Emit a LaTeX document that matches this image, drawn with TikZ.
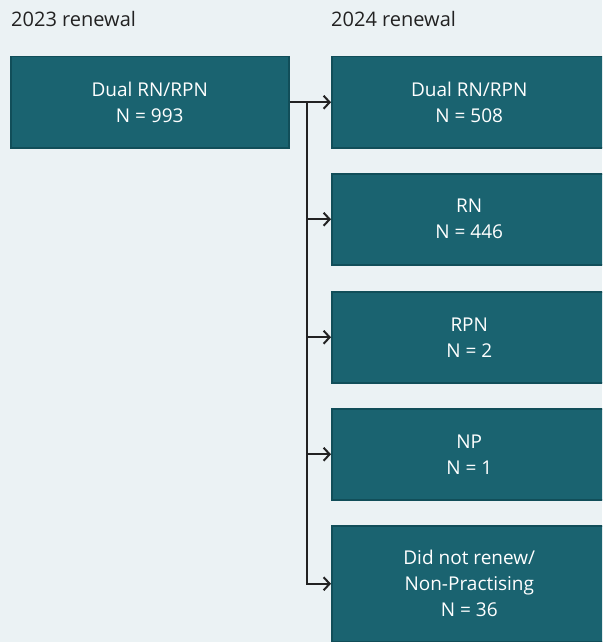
\documentclass[tikz,border=0pt]{standalone}
\usepackage{fontspec}
\setmainfont{Open Sans}
\usepackage{tikz}
\usetikzlibrary{positioning,calc,arrows.meta}

\definecolor{bgcol}{HTML}{EBF2F4}
\definecolor{boxcol}{HTML}{1A6370}
\definecolor{edgecol}{HTML}{114E59}
\definecolor{labelcol}{HTML}{222222}

\begin{document}
\begin{tikzpicture}[x=1pt, y=-1pt, >={Straight Barb[length=6pt,width=13pt]},
	box/.style={draw=edgecol, line width=1.5pt, fill=boxcol, text=white, align=center,
		anchor=north west, inner sep=0pt, font=\fontsize{19}{26}\selectfont},
	yearlabel/.style={anchor=west, text=labelcol, inner sep=0pt, font=\fontsize{20}{24}\selectfont}]

	% background
	\fill[bgcol] (0,0) rectangle (602,642);
	\useasboundingbox (0,0) rectangle (602,642);
	\clip (0,0) rectangle (602,642);

	% headings
	\node[yearlabel] (y23) at (11,19) {2023 renewal};
	\node[yearlabel] (y24) at (331,19) {2024 renewal};

	% 2023 box
	\node[box, minimum width=278pt, minimum height=91pt] (src) at (10,56) {Dual RN/RPN\\N = 993};

	% 2024 boxes
	\node[box, minimum width=275pt, minimum height=91pt] (t1) at (331,56) {Dual RN/RPN\\N = 508};
	\node[box, minimum width=275pt, minimum height=91pt] (t2) at (331,173) {RN\\N = 446};
	\node[box, minimum width=275pt, minimum height=91pt] (t3) at (331,291) {RPN\\N = 2};
	\node[box, minimum width=275pt, minimum height=91pt] (t4) at (331,408) {NP\\N = 1};
	\node[box, minimum width=275pt, minimum height=116pt] (t5) at (331,525) {Did not renew/\\Non-Practising\\N = 36};

	% connectors
	\coordinate (split) at ($(src.east)+(17,0)$);
	\draw[line width=2pt, labelcol] (src.east) -- (split);
	\foreach \t in {t1,t2,t3,t4,t5} {
		\draw[line width=2pt, labelcol, ->] (split) |- (\t.west);
	}

\end{tikzpicture}
\end{document}
